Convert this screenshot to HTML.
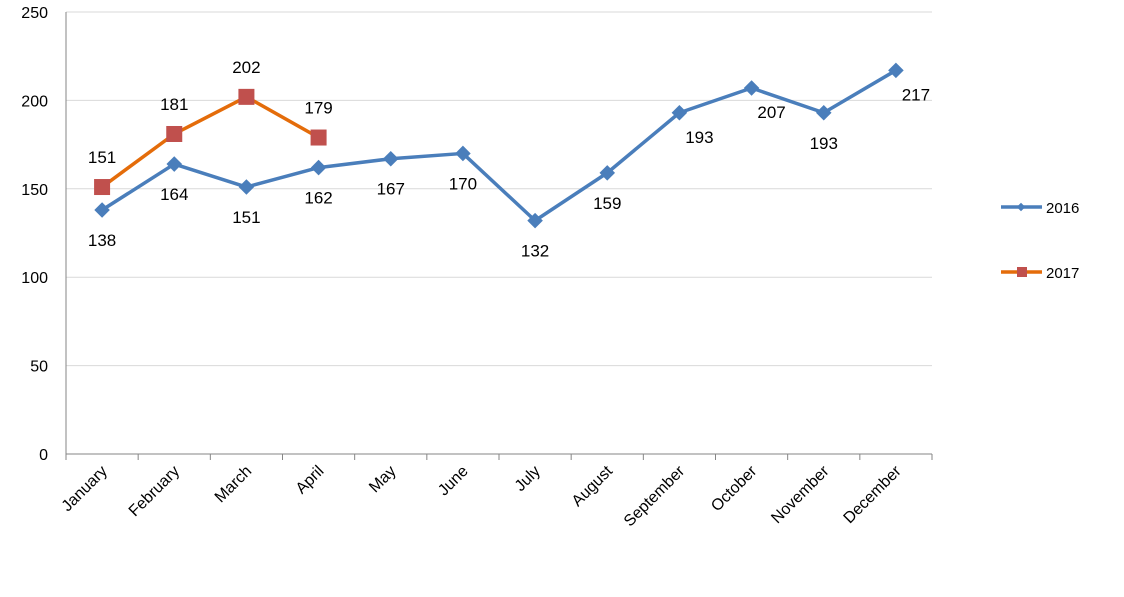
<!DOCTYPE html>
<html><head><meta charset="utf-8"><style>
body{margin:0;background:#fff;width:1124px;height:592px;overflow:hidden}
svg{font-family:"Liberation Sans",sans-serif}
</style></head><body>
<svg id="c" width="1124" height="592"></svg>
<script>
const categories=["January","February","March","April","May","June","July","August","September","October","November","December"];
const series2016=[138,164,151,162,167,170,132,159,193,207,193,217];
const series2017=[151,181,202,179];
const yTicks=[0,50,100,150,200,250];
const labelSide2016=["b","b","b","b","b","b","b","b","r","r","b","r"];
const NS="http://www.w3.org/2000/svg";
const svg=document.getElementById('c');
const L=66,R=932,T=12,B=454,yMax=250;
const step=(R-L)/categories.length;
const x=i=>L+step*(i+0.5);
const y=v=>B-(v/yMax)*(B-T);
function mk(tag,attrs,parent){const e=document.createElementNS(NS,tag);for(const k in attrs)e.setAttribute(k,attrs[k]);(parent||svg).appendChild(e);return e;}
yTicks.forEach(t=>{
  const g=mk('line',{x1:L,x2:R,y1:y(t),y2:y(t),stroke:t===0?'#868686':'#d9d9d9','stroke-width':1});
  
  
  const tx=mk('text',{x:L-18,y:y(t)+6,'text-anchor':'end','font-size':16,fill:'#000'});
  tx.textContent=t;
  
  
});
const ax=mk('line',{x1:L,x2:L,y1:T,y2:B,stroke:'#868686'});


for(let i=0;i<=categories.length;i++){
  const tk=mk('line',{x1:L+step*i,x2:L+step*i,y1:B,y2:B+6,stroke:'#868686'});
  
  
}
categories.forEach((c,i)=>{
  const tx=mk('text',{x:0,y:0,'text-anchor':'end','font-size':16,transform:`translate(${x(i)+6},${B+18}) rotate(-45)`});
  tx.textContent=c;
  
  
});
function line(data,color,name){
  const p=mk('polyline',{points:data.map((v,i)=>x(i)+','+y(v)).join(' '),fill:'none',stroke:color,'stroke-width':3.5,'stroke-linejoin':'round'});
  
  
}
line(series2016,'#4a7ebb','series-2016-line');
line(series2017,'#e46c0a','series-2017-line');
series2016.forEach((v,i)=>{
  const d=mk('rect',{x:x(i)-5.5,y:y(v)-5.5,width:11,height:11,fill:'#4a7ebb',transform:`rotate(45 ${x(i)} ${y(v)})`});
  
  
  const r=labelSide2016[i]==='r';
  const t=mk('text',{x:x(i)+(r?20:0),y:y(v)+(r?30:36),'text-anchor':'middle','font-size':17});
  t.textContent=v;
  
  
});
series2017.forEach((v,i)=>{
  const d=mk('rect',{x:x(i)-8,y:y(v)-8,width:16,height:16,fill:'#c0504d'});
  
  
  const t=mk('text',{x:x(i),y:y(v)-24,'text-anchor':'middle','font-size':17});
  t.textContent=v;
  
  
});
[['2016','#4a7ebb',207,'d'],['2017','#e46c0a',272,'s']].forEach(([n,c,ly,m])=>{
  const g=mk('g',{});
  
  
  mk('line',{x1:1001,x2:1042,y1:ly,y2:ly,stroke:c,'stroke-width':3.5},g);
  if(m==='d')mk('rect',{x:1018,y:ly-3,width:6,height:6,fill:c,transform:`rotate(45 1021 ${ly})`},g);
  else mk('rect',{x:1017,y:ly-5,width:10,height:10,fill:'#c0504d'},g);
  const t=mk('text',{x:1046,y:ly+6,'font-size':15},g);
  t.textContent=n;
});
</script>
</body></html>
